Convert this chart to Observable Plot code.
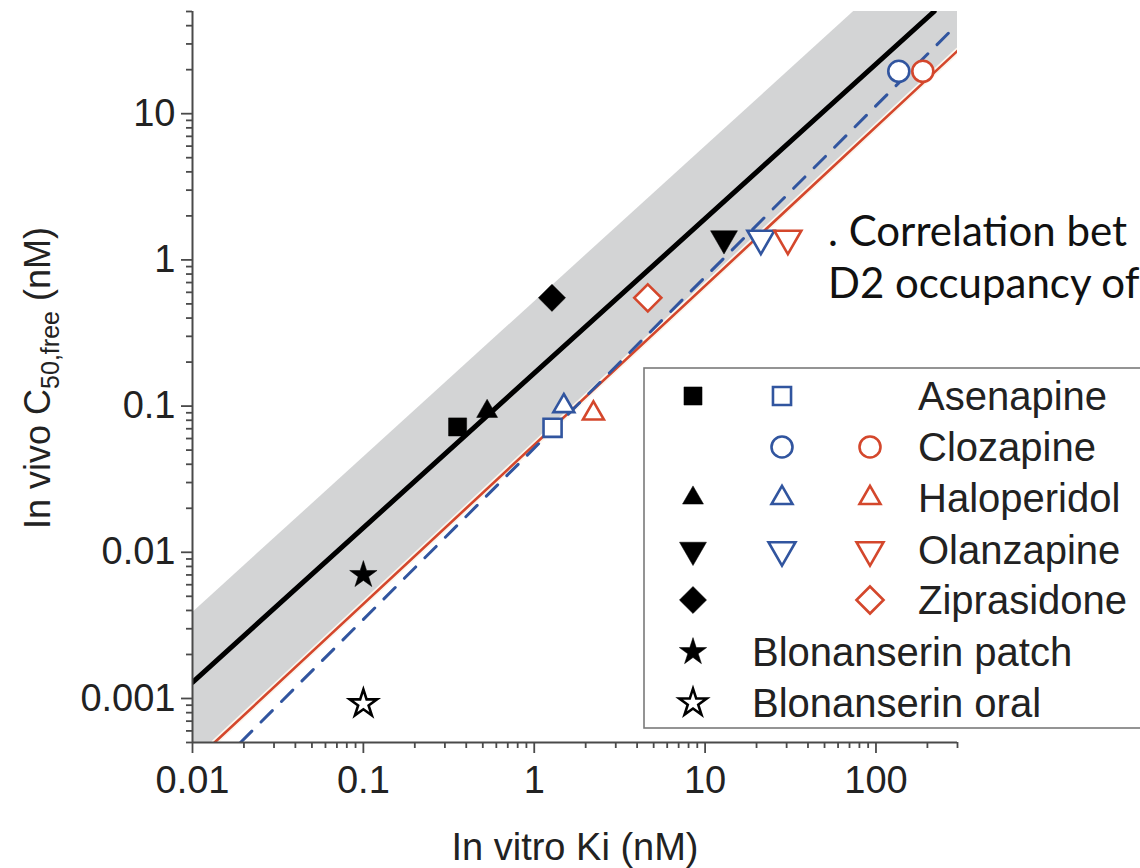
<!DOCTYPE html>
<html>
<head>
<meta charset="utf-8">
<script src="https://cdn.jsdelivr.net/npm/d3@7"></script>
<script src="https://cdn.jsdelivr.net/npm/@observablehq/plot@0.6"></script>
<style>
  html, body { margin: 0; padding: 0; background: #fff; }
  body { width: 1140px; height: 868px; overflow: hidden; position: relative; }
  #chart { position: absolute; left: 0; top: 0; }
  .note {
    position: absolute; left: 828px; top: 204px; white-space: nowrap;
    font-family: Lato, "Open Sans", sans-serif; font-size: 42px; line-height: 52px; color: #111;
  }
</style>
</head>
<body>
<div id="chart"></div>
<div class="note">. Correlation bet<br>D2 occupancy of</div>
<script>
// Antipsychotic drugs: in vitro Ki (nM) versus in vivo C50,free (nM)
const drugs = ["Asenapine", "Clozapine", "Haloperidol", "Olanzapine", "Ziprasidone"];

// filled black symbols
const kiBlack  = [0.356, null, 0.53, 12.9, 1.27];
const c50Black = [0.072, null, 0.092, 1.40, 0.55];
// open blue symbols
const kiBlue   = [1.28, 136, 1.49, 21.2, null];
const c50Blue  = [0.071, 19.5, 0.10, 1.40, null];
// open red symbols
const kiRed    = [null, 188, 2.22, 30.5, 4.62];
const c50Red   = [null, 19.5, 0.089, 1.40, 0.55];

// blonanserin (patch: filled star, oral: open star)
const blonanserin = ["Blonanserin patch", "Blonanserin oral"];
const kiBlon  = [0.1, 0.1];
const c50Blon = [0.007, 0.00092];

// fitted lines, given by their end points
const blackKi = [0.01, 219],     blackC50 = [0.00129, 50];
const redKi   = [0.01346, 300],  redC50   = [0.0005, 26.9];
const blueKi  = [0.0191, 300],   blueC50  = [0.0005, 41];
// shaded band around the black line
const bandKi = [0.01, 300], bandLo = [0.00036, 26.9], bandHi = [0.00386, 221];

// axis ticks
const xTicks = [0.01, 0.1, 1, 10, 100];
const yTicks = [0.001, 0.01, 0.1, 1, 10];
const xTickLabels = ["0.01", "0.1", "1", "10", "100"];
const yTickLabels = ["0.001", "0.01", "0.1", "1", "10"];

const RED = "#d4472c", BLUE = "#31559f", GRAY = "#d3d4d5", AXIS = "#4a4a4a";

function minorTicks(lo, hi) {
  const out = [];
  for (let e = Math.floor(Math.log10(lo)); e <= Math.ceil(Math.log10(hi)); e++)
    for (let m = 2; m <= 9; m++) {
      const v = +(m * Math.pow(10, e)).toPrecision(3);
      if (v >= lo * 0.999 && v <= hi * 1.001) out.push(v);
    }
  return out;
}

// downward triangle (centroid-centred, like d3.symbolTriangle flipped)
const triangleDown = {
  draw(context, size) {
    const y = -Math.sqrt(size / (Math.sqrt(3) * 3));
    context.moveTo(0, -y * 2);
    context.lineTo(-Math.sqrt(3) * y, y);
    context.lineTo(Math.sqrt(3) * y, y);
    context.closePath();
  }
};

// symbol and radius for each drug
const shape = {
  Asenapine:   {symbol: d3.symbolSquare2, r: 11.5},
  Clozapine:   {symbol: d3.symbolCircle, r: 10.5},
  Haloperidol: {symbol: d3.symbolTriangle2, r: 10},
  Olanzapine:  {symbol: triangleDown, r: 10},
  Ziprasidone: {symbol: d3.symbolDiamond2, r: 12.2},
  Star:        {symbol: d3.symbolStar, r: 8.6}
};

function rows(ki, c50) {
  return drugs.map((d, i) => ({drug: d, ki: ki[i], c50: c50[i]})).filter(d => d.ki != null);
}
const blackRows = rows(kiBlack, c50Black);
const blueRows = rows(kiBlue, c50Blue);
const redRows = rows(kiRed, c50Red);

function dotMarks(data, filled, color) {
  return drugs.map(name => Plot.dot(data.filter(d => d.drug === name), {
    x: "ki", y: "c50",
    symbol: shape[name].symbol, r: shape[name].r,
    fill: filled ? color : "white",
    stroke: color, strokeWidth: filled ? 0.5 : 2.6
  }));
}

const pair = (xs, ys) => xs.map((x, i) => ({ki: x, c50: ys[i]}));
const band = bandKi.map((x, i) => ({ki: x, lo: bandLo[i], hi: bandHi[i]}));

const xFmt = d => xTickLabels[xTicks.indexOf(d)] ?? "";
const yFmt = d => yTickLabels[yTicks.indexOf(d)] ?? "";

const chart = Plot.plot({
  width: 1140,
  height: 868,
  marginLeft: 192,
  marginRight: 183,
  marginTop: 11,
  marginBottom: 126,
  style: {fontFamily: "'Liberation Sans', Arial, sans-serif", fontSize: "38px", color: "#222", background: "white", overflow: "visible"},
  x: {type: "log", domain: [0.01, 300], label: null},
  y: {type: "log", domain: [0.0005, 50], label: null},
  marks: [
    Plot.areaY(band, {x: "ki", y1: "lo", y2: "hi", fill: GRAY, clip: true}),
    Plot.line(pair(redKi, redC50), {x: "ki", y: "c50", stroke: "#fbf6ee", strokeWidth: 6, clip: true}),
    Plot.line(pair(redKi, redC50), {x: "ki", y: "c50", stroke: RED, strokeWidth: 2.6, clip: true}),
    Plot.line(pair(blueKi, blueC50), {x: "ki", y: "c50", stroke: BLUE, strokeWidth: 3, strokeDasharray: "16,13", clip: true}),
    Plot.line(pair(blackKi, blackC50), {x: "ki", y: "c50", stroke: "black", strokeWidth: 5, clip: true}),
    ...dotMarks(blackRows, true, "black"),
    ...dotMarks(blueRows, false, BLUE),
    ...dotMarks(redRows, false, RED),
    Plot.dot(pair(kiBlon.slice(0, 1), c50Blon.slice(0, 1)), {x: "ki", y: "c50", symbol: d3.symbolStar, r: shape.Star.r, fill: "black", stroke: "black", strokeWidth: 0.5}),
    Plot.dot(pair(kiBlon.slice(1), c50Blon.slice(1)), {x: "ki", y: "c50", symbol: d3.symbolStar, r: shape.Star.r, fill: "white", stroke: "black", strokeWidth: 2.6, strokeLinejoin: "miter"}),
    // axis lines
    Plot.ruleX([0.01], {stroke: AXIS, strokeWidth: 2}),
    Plot.ruleY([0.0005], {stroke: AXIS, strokeWidth: 2}),
    // ticks
    Plot.axisX({ticks: minorTicks(0.01, 300), tickSize: 6, tickFormat: () => "", stroke: AXIS, strokeWidth: 1.8, label: null}),
    Plot.axisX({ticks: xTicks, tickSize: 11, tickPadding: 13, tickFormat: xFmt, stroke: AXIS, strokeWidth: 1.8, label: null}),
    Plot.axisY({ticks: minorTicks(0.0005, 50), tickSize: 6, tickFormat: () => "", stroke: AXIS, strokeWidth: 1.8, label: null}),
    Plot.axisY({ticks: yTicks, tickSize: 11, tickPadding: 6, tickFormat: yFmt, stroke: AXIS, strokeWidth: 1.8, label: null})
  ]
});

document.getElementById("chart").appendChild(chart);

const svg = d3.select(chart);

// axis titles
svg.append("text")
  .attr("x", 575).attr("y", 860)
  .attr("text-anchor", "middle")
  .attr("fill", "#222")
  .style("font-size", "38px")
  .text("In vitro Ki (nM)");

const yTitle = svg.append("text")
  .attr("transform", "translate(50,378) rotate(-90)")
  .attr("text-anchor", "middle")
  .attr("fill", "#222")
  .style("font-size", "36px");
yTitle.append("tspan").text("In vivo C");
yTitle.append("tspan").attr("dy", 9).style("font-size", "25px").text("50,free");
yTitle.append("tspan").attr("dy", -9).text(" (nM)");

// legend
const legendRows = [
  {label: "Asenapine", shape: "Asenapine", cols: ["black", BLUE, null]},
  {label: "Clozapine", shape: "Clozapine", cols: [null, BLUE, RED]},
  {label: "Haloperidol", shape: "Haloperidol", cols: ["black", BLUE, RED]},
  {label: "Olanzapine", shape: "Olanzapine", cols: ["black", BLUE, RED]},
  {label: "Ziprasidone", shape: "Ziprasidone", cols: ["black", null, RED]},
  {label: "Blonanserin patch", shape: "Star", cols: ["black"], filled: true},
  {label: "Blonanserin oral", shape: "Star", cols: ["black"], filled: false}
];
const lg = svg.append("g").attr("text-anchor", "start");
lg.append("rect")
  .attr("x", 644).attr("y", 368).attr("width", 520).attr("height", 360)
  .attr("fill", "white").attr("stroke", "#7a7a7a").attr("stroke-width", 1.6);
const colX = [693, 782, 870];
const rowY = [396, 447, 498, 550, 600, 652, 703];
legendRows.forEach((row, i) => {
  const s = shape[row.shape];
  const path = d3.symbol(s.symbol, Math.PI * s.r * s.r)();
  row.cols.forEach((c, j) => {
    if (!c) return;
    const filled = row.filled !== undefined ? row.filled : j === 0;
    lg.append("path")
      .attr("d", path)
      .attr("transform", `translate(${colX[j]},${rowY[i]})`)
      .attr("fill", filled ? c : "white")
      .attr("stroke", c)
      .attr("stroke-width", filled ? 0.5 : 2.6);
  });
  lg.append("text")
    .attr("x", row.shape === "Star" ? 752 : 918)
    .attr("y", rowY[i])
    .attr("dy", "0.36em")
    .attr("text-anchor", "start")
    .attr("fill", "#222")
    .style("font-size", "40px")
    .text(row.label);
});
</script>
</body>
</html>
